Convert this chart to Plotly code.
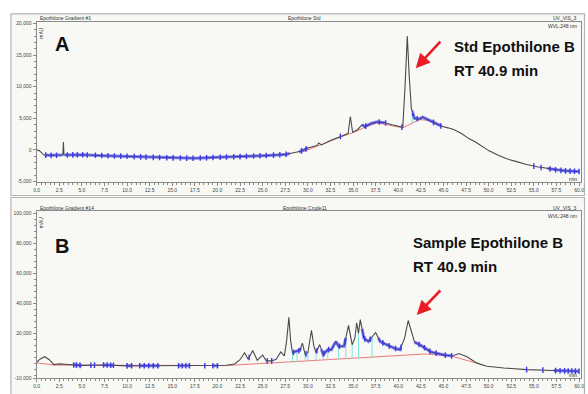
import numpy as np
import plotly.graph_objects as go

# ---------------- DATA ----------------
x_tick_values = [0, 2.5, 5, 7.5, 10, 12.5, 15, 17.5, 20, 22.5, 25, 27.5, 30, 32.5, 35,
                 37.5, 40, 42.5, 45, 47.5, 50, 52.5, 55, 57.5, 60]
x_tick_labels = ["%.1f" % v for v in x_tick_values]

top_y_ticks = [20000, 15000, 10000, 5000, 0, -5000]
top_y_labels = ["20,000", "15,000", "10,000", "5,000", "0", "-5,000"]
bot_y_ticks = [100000, 80000, 60000, 40000, 20000, -10000]
bot_y_labels = ["100,000", "80,000", "60,000", "40,000", "20,000", "-10,000"]

# Panel A : standard
top_time = [0.0, 0.3, 0.8, 1.5, 2.9, 2.96, 3.02, 5.0, 7.5, 10.0, 12.5, 15.0, 17.5, 20.0,
            22.5, 25.0, 27.5, 28.5, 29.2, 30.0, 31.0, 31.2, 31.5, 32.5, 33.5, 34.45, 34.7,
            34.95, 35.5, 36.0, 36.3, 37.0, 37.7, 38.5, 39.3, 40.0, 40.5, 40.75, 41.0, 41.2,
            41.45, 41.8, 42.3, 42.7, 43.3, 44.0, 44.7, 45.5, 46.2, 47.0, 47.8, 48.5, 49.3,
            50.0, 51.0, 52.0, 53.0, 54.2, 55.5, 57.2, 58.5, 60.0]
top_signal = [0, -100, -800, -850, -800, 1250, -800, -750, -900, -1000, -1150, -1250, -1300,
              -1150, -1050, -900, -700, -400, -200, 300, 700, 1100, 800, 1500, 2100, 2600,
              5300, 2800, 3200, 4000, 3700, 4200, 4450, 4300, 4000, 3700, 3600, 10000, 18000,
              12000, 6500, 5000, 4900, 5200, 4800, 4300, 3800, 3500, 3200, 2600, 1800, 1300,
              500, -100, -800, -1400, -1800, -2300, -2700, -3100, -3300, -3400]
top_base_time = [29.5, 31.0, 32.5, 34.45, 34.95, 36.5, 37.7, 39.3, 40.5, 42.3, 43.3, 44.5]
top_base_signal = [-250, 600, 1400, 2500, 2700, 3700, 4300, 3900, 3500, 4800, 4700, 3900]
top_drop_times = [41.55]
top_blue_ranges = [(0.9, 2.85), (3.1, 28.0), (29.0, 30.0), (36.0, 38.5), (41.6, 44.8),
                   (56.5, 60.0)]
top_marker_times = [1.0, 1.6, 2.2, 3.4, 4.0, 4.5, 5.1, 5.6, 6.5, 7.2, 7.9, 8.6, 9.3, 10.0,
                    10.8, 11.5, 12.1, 12.9, 13.6, 14.4, 15.1, 15.9, 16.6, 17.3, 18.1, 18.8,
                    19.5, 20.3, 21.0, 21.8, 22.5, 23.2, 24.0, 24.7, 25.4, 26.2, 26.9, 27.6,
                    29.3, 29.8, 33.6, 36.4, 37.9, 38.6, 40.4, 41.6, 42.1, 43.9, 44.7, 55.0,
                    55.8, 56.8, 57.4, 58.0, 58.5, 59.0, 59.5, 60.0]

# Panel B : crude sample
bot_time = [0.0, 0.4, 0.9, 1.4, 1.9, 2.5, 3.5, 4.5, 5.0, 7.5, 10.0, 12.5, 15.0, 17.5, 20.0,
            21.0, 21.9, 22.5, 23.0, 23.4, 23.9, 24.4, 25.0, 25.4, 26.0, 26.5, 27.0, 27.4,
            27.65, 27.9, 28.1, 28.3, 28.7, 29.1, 29.4, 29.7, 30.0, 30.2, 30.4, 30.65, 30.9,
            31.3, 31.7, 32.2, 32.6, 33.1, 33.4, 34.0, 34.5, 34.9, 35.2, 35.4, 35.6, 35.8,
            36.2, 36.7, 37.5, 38.0, 38.7, 39.5, 40.2, 40.7, 41.1, 41.6, 41.8, 42.5, 43.6,
            45.1, 46.0, 46.7, 47.6, 48.7, 49.8, 51.7, 54.2, 57.1, 60.0]
bot_signal = [800, 3000, 4500, 2500, -800, -300, -700, -1200, -1300, -1000, -1600, -1500,
              -1500, -1600, -1500, -1200, -400, 2500, 7100, 2800, 8600, 2100, 5600, 1700,
              1700, 2800, 7700, 5000, 15000, 30800, 15000, 7100, 8200, 8600, 13500, 6000,
              7100, 14000, 22100, 12000, 7100, 12500, 6000, 9200, 9200, 14600, 11400, 11400,
              25400, 12500, 16800, 27100, 20000, 29200, 16800, 14600, 20600, 14600, 12500,
              10300, 9200, 16800, 28600, 18900, 14200, 12000, 7700, 5600, 5000, 6600, 4500,
              200, -1900, -3000, -4100, -4700, -5200]
bot_base_time = [0.0, 2.0, 21.0, 42.4, 43.0, 45.8, 48.7]
bot_base_signal = [400, -1100, -1400, 6000, 6300, 5000, 200]
bot_drop_times = [28.3, 28.8, 29.7, 30.0, 30.9, 31.7, 32.2, 33.4, 34.2, 34.9, 35.6, 37.1]
bot_blue_ranges = [(4.0, 5.0), (7.3, 8.5), (9.9, 10.6), (11.3, 13.6), (15.6, 17.0),
                   (19.4, 20.1), (28.3, 29.2), (31.5, 34.2), (36.0, 37.0), (37.8, 40.3),
                   (41.8, 46.0), (57.2, 60.0)]
bot_marker_times = [4.1, 4.4, 4.8, 6.0, 6.4, 7.4, 7.8, 8.2, 8.5, 10.0, 10.5, 11.4, 11.9,
                    12.4, 12.9, 13.4, 15.7, 16.1, 16.5, 16.9, 18.6, 19.5, 20.0, 23.5, 25.5,
                    26.0, 28.4, 29.0, 29.8, 31.0, 31.8, 32.3, 33.5, 34.1, 36.3, 36.9, 38.3,
                    39.0, 39.7, 40.3, 42.3, 42.9, 43.5, 44.2, 45.2, 45.9, 54.2, 56.0, 57.4,
                    57.9, 58.4, 58.8, 59.2, 59.6, 60.0]

# ---------------- HELPERS ----------------
W, H = 588, 394
def px(x):
    return x / W
def py(y):
    return 1 - y / H

TRACE_C = "#4a4a4a"
BLUE_C = "#3a3ae6"
RED_C = "#f07878"
CYAN_C = "#7fe3e3"

def blue_overlay(time, sig, ranges):
    xs, ys = [], []
    for a, b in ranges:
        seg = [a] + [t for t in time if a < t < b] + [b]
        xs += seg + [None]
        ys += list(np.interp(seg, time, sig)) + [None]
    return xs, ys

def drop_lines(times, time, sig, btime, bsig):
    xs, ys = [], []
    for t in times:
        xs += [t, t, None]
        ys += [float(np.interp(t, btime, bsig)), float(np.interp(t, time, sig)), None]
    return xs, ys

fig = go.Figure()

def add_panel(time, sig, btime, bsig, drops, ranges, mtimes, xa, ya):
    fig.add_trace(go.Scatter(x=btime, y=bsig, mode="lines", xaxis=xa, yaxis=ya,
                             line=dict(color=RED_C, width=1), hoverinfo="skip"))
    dx, dy = drop_lines(drops, time, sig, btime, bsig)
    fig.add_trace(go.Scatter(x=dx, y=dy, mode="lines", xaxis=xa, yaxis=ya,
                             line=dict(color=CYAN_C, width=1), hoverinfo="skip"))
    fig.add_trace(go.Scatter(x=time, y=sig, mode="lines", xaxis=xa, yaxis=ya,
                             line=dict(color=TRACE_C, width=1.1)))
    ox, oy = blue_overlay(time, sig, ranges)
    fig.add_trace(go.Scatter(x=ox, y=oy, mode="lines", xaxis=xa, yaxis=ya,
                             line=dict(color=BLUE_C, width=3), opacity=0.65,
                             hoverinfo="skip"))
    my = np.interp(mtimes, time, sig)
    fig.add_trace(go.Scatter(x=mtimes, y=my, mode="markers", xaxis=xa, yaxis=ya,
                             marker=dict(symbol="line-ns", size=4,
                                         line=dict(color=BLUE_C, width=1.4)),
                             hoverinfo="skip"))

add_panel(top_time, top_signal, top_base_time, top_base_signal, top_drop_times,
          top_blue_ranges, top_marker_times, "x", "y")
add_panel(bot_time, bot_signal, bot_base_time, bot_base_signal, bot_drop_times,
          bot_blue_ranges, bot_marker_times, "x2", "y2")

tick_font = dict(family="Liberation Sans", size=5, color="#444")
AX_C = "#8a8a8a"

def xaxis(domain_y_anchor):
    return dict(domain=[px(34), px(584)], range=[0, 60.22], anchor=domain_y_anchor,
                tickmode="array", tickvals=x_tick_values, ticktext=x_tick_labels,
                tickfont=tick_font, ticks="outside", ticklen=3, tickcolor=AX_C,
                showline=True, linecolor=AX_C, linewidth=1, mirror=True,
                showgrid=False, zeroline=False,
                minor=dict(dtick=0.5, ticks="outside", ticklen=1.5, tickcolor=AX_C))

def yaxis(dom, rng, vals, labels, anchor, minor_dt):
    return dict(domain=dom, range=rng, anchor=anchor, tickmode="array", tickvals=vals,
                ticktext=labels, tickfont=tick_font, ticks="outside", ticklen=3,
                tickcolor=AX_C, showline=True, linecolor=AX_C, linewidth=1, mirror=True,
                showgrid=False, zeroline=False,
                minor=dict(dtick=minor_dt, ticks="outside", ticklen=1.5, tickcolor=AX_C))

fig.update_layout(
    width=W, height=H, autosize=False,
    margin=dict(l=0, r=0, t=0, b=0),
    paper_bgcolor="white", plot_bgcolor="#fcf8ec",
    showlegend=False,
    xaxis=xaxis("y"),
    yaxis=yaxis([py(182.7), py(20.7)], [-5120, 20160], top_y_ticks, top_y_labels, "x", 1000),
    xaxis2=xaxis("y2"),
    yaxis2=yaxis([py(381.3), py(212)], [-10000, 101300], bot_y_ticks, bot_y_labels, "x2", 4000),
)

# panel frames
for y0, y1 in [(12, 196), (198, 398)]:
    fig.add_shape(type="rect", xref="paper", yref="paper", x0=px(8), x1=px(587.5),
                  y0=py(y1), y1=py(y0), line=dict(color="#b4b4b4", width=1.2),
                  fillcolor="#f8f8f4", layer="below")

small = dict(family="Liberation Sans", size=5, color="#333")
def txt(x, y, s, xanchor="left", font=small, **kw):
    fig.add_annotation(x=px(x), y=py(y), xref="paper", yref="paper", text=s,
                       showarrow=False, xanchor=xanchor, yanchor="middle", font=font, **kw)

for y_head, y_wvl, y_min, title_l, title_c in [
        (16.5, 24.5, 179, "Epothilone Gradient #1", "Epothilone Std"),
        (208.5, 216.5, 378, "Epothilone Gradient #14", "Epothilone Crude11")]:
    txt(35, y_head, title_l)
    txt(305, y_head, title_c, xanchor="center")
    txt(582, y_head, "UV_VIS_3", xanchor="right")
    txt(582, y_wvl, "WVL:248 nm", xanchor="right")
    txt(582, y_min, "min", xanchor="right")
    txt(38, y_head + 15, "mAU", xanchor="center", textangle=-90)

big = dict(family="Liberation Sans", size=20, color="#111", weight="bold")
lab = dict(family="Liberation Sans", size=15, color="#111", weight="bold")
txt(60, 43, "A", xanchor="center", font=big)
txt(60, 247, "B", xanchor="center", font=big)
txt(454, 45, "Std Epothilone B", font=lab)
txt(454, 69, "RT 40.9 min", font=lab)
txt(412, 244, "Sample Epothilone B", font=lab)
txt(412, 268, "RT 40.9 min", font=lab)

for hx, hy, tx, ty in [(417, 67, 443, 39), (418, 317, 443, 291)]:
    fig.add_annotation(x=px(hx), y=py(hy), xref="paper", yref="paper",
                       ax=tx - hx, ay=ty - hy, axref="pixel", ayref="pixel",
                       showarrow=True, arrowhead=2, arrowsize=1.1, arrowwidth=2.6,
                       arrowcolor="#ec1c24", text="")

fig.write_html("out.html", config={"displayModeBar": False},
               post_script="document.body.style.margin='0';"
                           "document.body.style.overflow='hidden';")
